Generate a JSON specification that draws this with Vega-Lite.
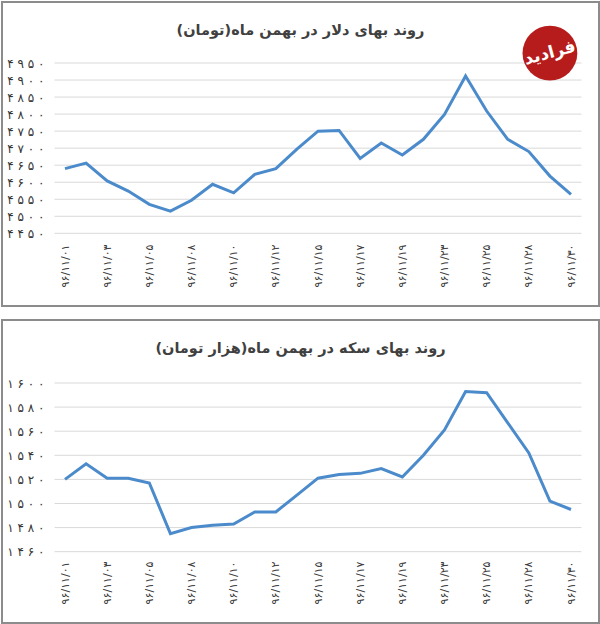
{
  "$schema": "https://vega.github.io/schema/vega-lite/v6.json",
  "padding": {"left": 1, "top": 1, "right": 0, "bottom": 0},
  "spacing": 12,
  "datasets": {
    "dollar": [
      {"date": "۹۶/۱۱/۰۱", "price": 4640}, {"date": "۹۶/۱۱/۰۲", "price": 4656},
      {"date": "۹۶/۱۱/۰۳", "price": 4604}, {"date": "۹۶/۱۱/۰۴", "price": 4574},
      {"date": "۹۶/۱۱/۰۵", "price": 4535}, {"date": "۹۶/۱۱/۰۷", "price": 4515},
      {"date": "۹۶/۱۱/۰۸", "price": 4547}, {"date": "۹۶/۱۱/۰۹", "price": 4594},
      {"date": "۹۶/۱۱/۱۰", "price": 4569}, {"date": "۹۶/۱۱/۱۱", "price": 4623},
      {"date": "۹۶/۱۱/۱۲", "price": 4640}, {"date": "۹۶/۱۱/۱۴", "price": 4697},
      {"date": "۹۶/۱۱/۱۵", "price": 4750}, {"date": "۹۶/۱۱/۱۶", "price": 4752},
      {"date": "۹۶/۱۱/۱۷", "price": 4670}, {"date": "۹۶/۱۱/۱۸", "price": 4715},
      {"date": "۹۶/۱۱/۱۹", "price": 4680}, {"date": "۹۶/۱۱/۲۱", "price": 4726},
      {"date": "۹۶/۱۱/۲۳", "price": 4799}, {"date": "۹۶/۱۱/۲۴", "price": 4912},
      {"date": "۹۶/۱۱/۲۵", "price": 4809}, {"date": "۹۶/۱۱/۲۶", "price": 4726},
      {"date": "۹۶/۱۱/۲۸", "price": 4690}, {"date": "۹۶/۱۱/۲۹", "price": 4618},
      {"date": "۹۶/۱۱/۳۰", "price": 4564}
    ],
    "coin": [
      {"date": "۹۶/۱۱/۰۱", "price": 1520}, {"date": "۹۶/۱۱/۰۲", "price": 1533},
      {"date": "۹۶/۱۱/۰۳", "price": 1521}, {"date": "۹۶/۱۱/۰۴", "price": 1521},
      {"date": "۹۶/۱۱/۰۵", "price": 1517}, {"date": "۹۶/۱۱/۰۷", "price": 1475},
      {"date": "۹۶/۱۱/۰۸", "price": 1480}, {"date": "۹۶/۱۱/۰۹", "price": 1482},
      {"date": "۹۶/۱۱/۱۰", "price": 1483}, {"date": "۹۶/۱۱/۱۱", "price": 1493},
      {"date": "۹۶/۱۱/۱۲", "price": 1493}, {"date": "۹۶/۱۱/۱۴", "price": 1507},
      {"date": "۹۶/۱۱/۱۵", "price": 1521}, {"date": "۹۶/۱۱/۱۶", "price": 1524},
      {"date": "۹۶/۱۱/۱۷", "price": 1525}, {"date": "۹۶/۱۱/۱۸", "price": 1529},
      {"date": "۹۶/۱۱/۱۹", "price": 1522}, {"date": "۹۶/۱۱/۲۱", "price": 1540},
      {"date": "۹۶/۱۱/۲۳", "price": 1561}, {"date": "۹۶/۱۱/۲۴", "price": 1593},
      {"date": "۹۶/۱۱/۲۵", "price": 1592}, {"date": "۹۶/۱۱/۲۶", "price": 1567},
      {"date": "۹۶/۱۱/۲۸", "price": 1542}, {"date": "۹۶/۱۱/۲۹", "price": 1502},
      {"date": "۹۶/۱۱/۳۰", "price": 1495}
    ],
    "dollarGrid": [
      {"v": 4450}, {"v": 4500}, {"v": 4550}, {"v": 4600}, {"v": 4650}, {"v": 4700},
      {"v": 4750}, {"v": 4800}, {"v": 4850}, {"v": 4900}, {"v": 4950}
    ],
    "coinGrid": [
      {"v": 1460}, {"v": 1480}, {"v": 1500}, {"v": 1520}, {"v": 1540}, {"v": 1560},
      {"v": 1580}, {"v": 1600}
    ],
    "logo": [
      {"date": "۹۶/۱۱/۲۹", "v": 4979, "name": "فرادید"}
    ]
  },
  "vconcat": [
    {
      "width": 597,
      "height": 304,
      "title": {
        "text": "روند بهای دلار در بهمن ماه(تومان)\u200f",
        "frame": "group",
        "anchor": "middle",
        "offset": -43,
        "baseline": "middle",
        "font": "DejaVu Sans",
        "fontSize": 14.5,
        "fontWeight": "bold",
        "color": "#404040"
      },
      "layer": [
        {
          "data": {"name": "dollarGrid"},
          "mark": {"type": "rule", "color": "#d9d9d9", "strokeWidth": 1, "xOffset": -10.5, "x2Offset": 10.5},
          "encoding": {
            "x": {"datum": "۹۶/۱۱/۰۱", "type": "ordinal", "title": null},
            "x2": {"datum": "۹۶/۱۱/۳۰"},
            "y": {"field": "v", "type": "quantitative", "title": null}
          }
        },
        {
          "data": {"name": "dollar"},
          "mark": {"type": "line", "color": "#4b8bcb", "strokeWidth": 3},
          "encoding": {
            "x": {
              "field": "date",
              "type": "ordinal",
              "title": null,
              "scale": {
                "type": "point",
                "domain": ["۹۶/۱۱/۰۱","۹۶/۱۱/۰۲","۹۶/۱۱/۰۳","۹۶/۱۱/۰۴","۹۶/۱۱/۰۵","۹۶/۱۱/۰۷","۹۶/۱۱/۰۸","۹۶/۱۱/۰۹","۹۶/۱۱/۱۰","۹۶/۱۱/۱۱","۹۶/۱۱/۱۲","۹۶/۱۱/۱۴","۹۶/۱۱/۱۵","۹۶/۱۱/۱۶","۹۶/۱۱/۱۷","۹۶/۱۱/۱۸","۹۶/۱۱/۱۹","۹۶/۱۱/۲۱","۹۶/۱۱/۲۳","۹۶/۱۱/۲۴","۹۶/۱۱/۲۵","۹۶/۱۱/۲۶","۹۶/۱۱/۲۸","۹۶/۱۱/۲۹","۹۶/۱۱/۳۰"],
                "range": [63, 569],
                "padding": 0
              },
              "axis": {
                "values": ["۹۶/۱۱/۰۱","۹۶/۱۱/۰۳","۹۶/۱۱/۰۵","۹۶/۱۱/۰۸","۹۶/۱۱/۱۰","۹۶/۱۱/۱۲","۹۶/۱۱/۱۵","۹۶/۱۱/۱۷","۹۶/۱۱/۱۹","۹۶/۱۱/۲۳","۹۶/۱۱/۲۵","۹۶/۱۱/۲۸","۹۶/۱۱/۳۰"]
              }
            },
            "y": {
              "field": "price",
              "type": "quantitative",
              "title": null,
              "scale": {"domain": [4236.6, 5129.1], "nice": false, "zero": false},
              "axis": {
                "values": [4450, 4500, 4550, 4600, 4650, 4700, 4750, 4800, 4850, 4900, 4950],
                "tickCount": 20
              }
            }
          }
        },
        {
          "data": {"name": "logo"},
          "mark": {"type": "point", "filled": true, "shape": "circle", "size": 3000, "color": "#b71c1c", "opacity": 1},
          "encoding": {
            "x": {"field": "date", "type": "ordinal", "title": null},
            "y": {"field": "v", "type": "quantitative", "title": null}
          }
        },
        {
          "data": {"name": "logo"},
          "mark": {"type": "text", "color": "#ffffff", "font": "DejaVu Sans", "fontSize": 17, "fontWeight": "bold", "angle": 345},
          "encoding": {
            "x": {"field": "date", "type": "ordinal", "title": null},
            "y": {"field": "v", "type": "quantitative", "title": null},
            "text": {"field": "name"}
          }
        }
      ]
    },
    {
      "width": 597,
      "height": 303,
      "title": {
        "text": "روند بهای سکه در بهمن ماه(هزار تومان)\u200f",
        "frame": "group",
        "anchor": "middle",
        "offset": -43,
        "baseline": "middle",
        "font": "DejaVu Sans",
        "fontSize": 14.5,
        "fontWeight": "bold",
        "color": "#404040"
      },
      "layer": [
        {
          "data": {"name": "coinGrid"},
          "mark": {"type": "rule", "color": "#d9d9d9", "strokeWidth": 1, "xOffset": -10.5, "x2Offset": 10.5},
          "encoding": {
            "x": {"datum": "۹۶/۱۱/۰۱", "type": "ordinal", "title": null},
            "x2": {"datum": "۹۶/۱۱/۳۰"},
            "y": {"field": "v", "type": "quantitative", "title": null}
          }
        },
        {
          "data": {"name": "coin"},
          "mark": {"type": "line", "color": "#4b8bcb", "strokeWidth": 3},
          "encoding": {
            "x": {
              "field": "date",
              "type": "ordinal",
              "title": null,
              "scale": {
                "type": "point",
                "domain": ["۹۶/۱۱/۰۱","۹۶/۱۱/۰۲","۹۶/۱۱/۰۳","۹۶/۱۱/۰۴","۹۶/۱۱/۰۵","۹۶/۱۱/۰۷","۹۶/۱۱/۰۸","۹۶/۱۱/۰۹","۹۶/۱۱/۱۰","۹۶/۱۱/۱۱","۹۶/۱۱/۱۲","۹۶/۱۱/۱۴","۹۶/۱۱/۱۵","۹۶/۱۱/۱۶","۹۶/۱۱/۱۷","۹۶/۱۱/۱۸","۹۶/۱۱/۱۹","۹۶/۱۱/۲۱","۹۶/۱۱/۲۳","۹۶/۱۱/۲۴","۹۶/۱۱/۲۵","۹۶/۱۱/۲۶","۹۶/۱۱/۲۸","۹۶/۱۱/۲۹","۹۶/۱۱/۳۰"],
                "range": [63, 569],
                "padding": 0
              },
              "axis": {
                "values": ["۹۶/۱۱/۰۱","۹۶/۱۱/۰۳","۹۶/۱۱/۰۵","۹۶/۱۱/۰۸","۹۶/۱۱/۱۰","۹۶/۱۱/۱۲","۹۶/۱۱/۱۵","۹۶/۱۱/۱۷","۹۶/۱۱/۱۹","۹۶/۱۱/۲۳","۹۶/۱۱/۲۵","۹۶/۱۱/۲۸","۹۶/۱۱/۳۰"]
              }
            },
            "y": {
              "field": "price",
              "type": "quantitative",
              "title": null,
              "scale": {"domain": [1400.8, 1652.3], "nice": false, "zero": false},
              "axis": {
                "values": [1460, 1480, 1500, 1520, 1540, 1560, 1580, 1600],
                "tickCount": 20
              }
            }
          }
        }
      ]
    }
  ],
  "config": {
    "view": {"stroke": "#8c8c8c", "strokeWidth": 2},
    "background": "#ffffff",
    "axisX": {
      "offset": -64,
      "labelAngle": 270,
      "labelPadding": 2,
      "labelOverlap": false,
      "domain": false,
      "ticks": false,
      "grid": false,
      "labelFont": "DejaVu Sans",
      "labelFontSize": 11,
      "labelColor": "#404040"
    },
    "axisY": {
      "offset": -52,
      "labelPadding": 10,
      "labelOverlap": false,
      "domain": false,
      "ticks": false,
      "grid": false,
      "labelFont": "DejaVu Sans",
      "labelFontSize": 12,
      "labelColor": "#333333",
      "labelExpr": "replace(replace(replace(replace(replace(replace(replace(replace(replace(replace(join(split(format(datum.value,'d'),''),' '),regexp('0','g'),'۰'),regexp('1','g'),'۱'),regexp('2','g'),'۲'),regexp('3','g'),'۳'),regexp('4','g'),'۴'),regexp('5','g'),'۵'),regexp('6','g'),'۶'),regexp('7','g'),'۷'),regexp('8','g'),'۸'),regexp('9','g'),'۹')"
    }
  }
}
